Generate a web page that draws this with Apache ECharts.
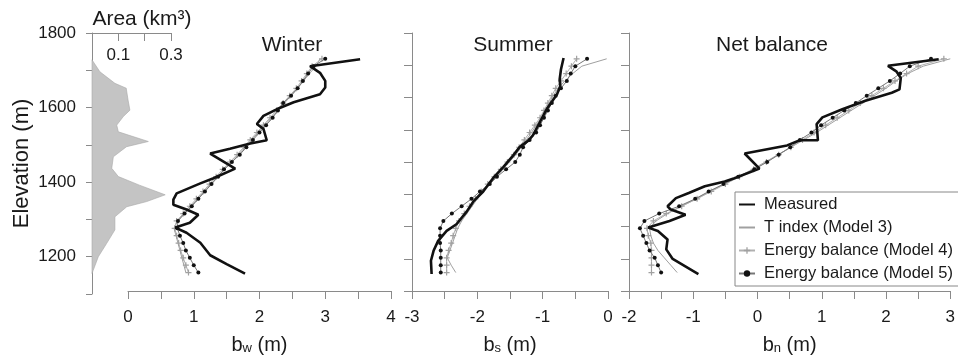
<!DOCTYPE html>
<html>
<head>
<meta charset="utf-8">
<script src="https://cdn.jsdelivr.net/npm/echarts@6/dist/echarts.min.js"></script>
<style>
  html, body { margin: 0; padding: 0; background: #fff; }
  #chart { width: 958px; height: 360px; }
</style>
</head>
<body>
<div id="chart"></div>
<script>
// glacier area by elevation band
const areaElev = [1155, 1200, 1236, 1272, 1307, 1334, 1348, 1366, 1392, 1415, 1437, 1468, 1495, 1509, 1535, 1553, 1576, 1593, 1620, 1652, 1665, 1696, 1728]
const areaKm3 = [0, 0.024, 0.056, 0.087, 0.087, 0.132, 0.208, 0.278, 0.18, 0.10, 0.075, 0.081, 0.131, 0.214, 0.10, 0.094, 0.119, 0.144, 0.137, 0.13, 0.087, 0.03, 0]

// model elevation bands (shared by all modelled profiles)
const modelElev = [1150, 1170, 1190, 1210, 1230, 1250, 1270, 1290, 1310, 1330, 1350, 1370, 1390, 1410, 1430, 1450, 1470, 1490, 1510, 1530, 1550, 1570, 1590, 1610, 1630, 1650, 1670, 1690, 1710, 1730]

// winter balance
const winterMeasElev = [1147, 1173, 1197, 1231, 1258, 1272, 1285, 1307, 1321, 1334, 1348, 1365, 1392, 1406, 1432, 1473, 1486, 1500, 1509, 1540, 1553, 1575, 1593, 1612, 1634, 1652, 1670, 1692, 1710, 1729]
const winterMeas = [1.78, 1.50, 1.25, 1.10, 0.89, 0.72, 0.94, 1.07, 0.89, 0.69, 0.69, 0.74, 1.10, 1.30, 1.63, 1.25, 1.55, 1.86, 2.11, 2.06, 1.96, 2.06, 2.26, 2.52, 2.92, 3.00, 3.00, 2.92, 2.77, 3.53]
const winterM3 = [0.88, 0.85, 0.82, 0.79, 0.76, 0.73, 0.70, 0.75, 0.86, 0.96, 1.06, 1.16, 1.26, 1.36, 1.47, 1.58, 1.68, 1.78, 1.88, 1.98, 2.08, 2.18, 2.28, 2.38, 2.48, 2.58, 2.67, 2.76, 2.86, 2.92]
const winterM4 = [0.92, 0.88, 0.84, 0.80, 0.77, 0.74, 0.71, 0.74, 0.84, 0.94, 1.04, 1.14, 1.24, 1.34, 1.44, 1.55, 1.66, 1.76, 1.86, 1.96, 2.06, 2.16, 2.26, 2.36, 2.46, 2.56, 2.64, 2.72, 2.80, 2.95]
const winterM5 = [1.07, 1.00, 0.94, 0.88, 0.84, 0.79, 0.75, 0.76, 0.86, 0.97, 1.07, 1.17, 1.27, 1.37, 1.46, 1.58, 1.70, 1.80, 1.90, 2.00, 2.10, 2.20, 2.28, 2.36, 2.48, 2.58, 2.66, 2.74, 2.82, 3.00]

// summer balance
const summerMeasElev = [1146, 1182, 1209, 1236, 1263, 1281, 1316, 1343, 1370, 1406, 1437, 1468, 1491, 1508, 1522, 1549, 1593, 1634, 1656, 1674, 1701, 1732]
const summerMeas = [-2.70, -2.71, -2.67, -2.60, -2.47, -2.32, -2.16, -2.06, -1.91, -1.76, -1.60, -1.45, -1.35, -1.22, -1.15, -1.07, -0.94, -0.78, -0.73, -0.74, -0.72, -0.68]
const summerM3 = [-2.33, -2.40, -2.46, -2.42, -2.38, -2.34, -2.30, -2.24, -2.16, -2.08, -2.00, -1.91, -1.81, -1.71, -1.61, -1.51, -1.41, -1.33, -1.25, -1.17, -1.10, -1.02, -0.96, -0.90, -0.84, -0.76, -0.66, -0.54, -0.40, -0.02]
const summerM4 = [-2.47, -2.47, -2.47, -2.44, -2.40, -2.37, -2.33, -2.28, -2.20, -2.12, -2.03, -1.94, -1.84, -1.74, -1.64, -1.54, -1.44, -1.36, -1.28, -1.20, -1.12, -1.04, -0.98, -0.92, -0.86, -0.80, -0.72, -0.64, -0.56, -0.48]
const summerM5 = [-2.56, -2.56, -2.56, -2.56, -2.57, -2.57, -2.57, -2.52, -2.39, -2.24, -2.09, -1.96, -1.81, -1.70, -1.56, -1.42, -1.35, -1.30, -1.20, -1.10, -1.04, -0.98, -0.92, -0.86, -0.80, -0.72, -0.63, -0.57, -0.50, -0.32]

// net balance
const netMeasElev = [1146, 1187, 1213, 1240, 1263, 1272, 1290, 1307, 1321, 1330, 1352, 1366, 1384, 1397, 1406, 1432, 1473, 1495, 1509, 1509, 1553, 1571, 1593, 1616, 1638, 1647, 1678, 1696, 1711, 1729]
const netMeas = [-0.92, -1.32, -1.42, -1.40, -1.55, -1.70, -1.37, -1.12, -1.35, -1.40, -1.27, -1.07, -0.82, -0.51, -0.36, 0.03, -0.20, 0.46, 0.66, 0.94, 0.92, 1.01, 1.32, 1.68, 2.09, 2.21, 2.23, 2.16, 2.03, 2.82]
const netM3 = [-1.25, -1.35, -1.45, -1.55, -1.62, -1.66, -1.68, -1.58, -1.40, -1.18, -0.96, -0.74, -0.52, -0.30, -0.08, 0.12, 0.32, 0.52, 0.72, 0.92, 1.10, 1.28, 1.46, 1.64, 1.82, 2.00, 2.16, 2.34, 2.58, 3.00]
const netM4 = [-1.65, -1.65, -1.65, -1.65, -1.66, -1.70, -1.72, -1.62, -1.42, -1.18, -0.94, -0.72, -0.50, -0.28, -0.06, 0.14, 0.33, 0.52, 0.70, 0.88, 1.06, 1.24, 1.42, 1.60, 1.78, 1.96, 2.14, 2.32, 2.50, 2.90]
const netM5 = [-1.50, -1.55, -1.60, -1.68, -1.73, -1.78, -1.83, -1.76, -1.53, -1.22, -0.97, -0.76, -0.53, -0.30, -0.05, 0.15, 0.33, 0.51, 0.66, 0.84, 0.99, 1.17, 1.35, 1.53, 1.70, 1.88, 2.06, 2.22, 2.37, 2.70]

const NAMES = ['Measured', 'T index (Model 3)', 'Energy balance (Model 4)', 'Energy balance (Model 5)']

const FONT = '"Liberation Sans", Arial, sans-serif'
const AXIS_COLOR = '#8a8a8a'
const TEXT_COLOR = '#1a1a1a'
const PLUS = 'path://M4,0h2v4h4v2h-4v4h-2v-4h-4v-2h4z'
const CLEAR = 'rgba(0,0,0,0)'

const pairs = (vals, elevs) => vals.map((v, i) => [v, elevs[i]])

const styles = [
  { lineStyle: { color: '#111', width: 2.6 }, itemStyle: { color: CLEAR }, symbol: 'none', z: 5 },
  { lineStyle: { color: '#a0a0a0', width: 1 }, itemStyle: { color: CLEAR }, symbol: 'none', z: 2 },
  { lineStyle: { color: '#b0b0b0', width: 1 }, itemStyle: { color: '#a0a0a0' }, symbol: PLUS, symbolSize: 6, z: 3 },
  { lineStyle: { color: '#777', width: 1 }, itemStyle: { color: '#111' }, symbol: 'circle', symbolSize: 4, z: 4 }
]

const makeSeries = (idx, xIdx, yIdx, data) => Object.assign({
  name: NAMES[idx],
  type: 'line',
  xAxisIndex: xIdx,
  yAxisIndex: yIdx,
  data: data,
  showSymbol: true,
  animation: false,
  silent: true
}, styles[idx])

const xLabel = { fontSize: 17, color: TEXT_COLOR, fontFamily: FONT, margin: 18 }
const tickDown = { show: true, length: 8, lineStyle: { color: AXIS_COLOR } }
const halfLabel = v => (Math.abs(v - Math.round(v)) < 1e-6 ? String(Math.round(v)) : '')
const nameRich = sub => ({
  name: '{b|b}{s|' + sub + '}{b| (m)}',
  nameLocation: 'middle',
  nameGap: 38,
  nameTextStyle: {
    fontFamily: FONT, color: TEXT_COLOR,
    rich: {
      b: { fontSize: 20, fontFamily: FONT, color: TEXT_COLOR, verticalAlign: 'bottom', lineHeight: 26 },
      s: { fontSize: 13, fontFamily: FONT, color: TEXT_COLOR, verticalAlign: 'bottom', lineHeight: 13 }
    }
  }
})

const balanceX = (grid, min, max, sub) => Object.assign({
  type: 'value', gridIndex: grid, min: min, max: max, interval: 0.5,
  axisLine: { show: true, lineStyle: { color: AXIS_COLOR } },
  axisTick: tickDown,
  axisLabel: Object.assign({ formatter: halfLabel }, xLabel),
  splitLine: { show: false }
}, nameRich(sub))

const hiddenY = grid => ({ type: 'value', gridIndex: grid, min: 1100, max: 1800, show: false })
const tickY = grid => ({
  type: 'value', gridIndex: grid, position: 'left', min: 0, max: 8, interval: 1,
  axisLine: { show: true, lineStyle: { color: AXIS_COLOR } },
  axisTick: { show: true, length: 8, lineStyle: { color: AXIS_COLOR } },
  axisLabel: { show: false },
  splitLine: { show: false }
})

const titleStyle = { fontSize: 21, fontWeight: 'normal', color: TEXT_COLOR, fontFamily: FONT }

const option = {
  backgroundColor: '#fff',
  animation: false,
  title: [
    { text: 'Area (km³)', left: 142, top: 9, textAlign: 'center', padding: 0, textStyle: titleStyle },
    { text: 'Winter', left: 292, top: 35, textAlign: 'center', padding: 0, textStyle: titleStyle },
    { text: 'Summer', left: 513, top: 35, textAlign: 'center', padding: 0, textStyle: titleStyle },
    { text: 'Net balance', left: 772, top: 35, textAlign: 'center', padding: 0, textStyle: titleStyle }
  ],
  grid: [
    { left: 92, top: 33, width: 79, height: 261 },
    { left: 128, top: 33, width: 263, height: 261 },
    { left: 412, top: 33, width: 196, height: 261 },
    { left: 629, top: 33, width: 327.5, height: 261 }
  ],
  xAxis: [
    {
      type: 'value', gridIndex: 0, position: 'top', min: 0, max: 0.3, interval: 0.1,
      axisLine: { show: true, lineStyle: { color: AXIS_COLOR } },
      axisTick: { show: true, inside: true, length: 8, lineStyle: { color: AXIS_COLOR } },
      axisLabel: {
        inside: true, margin: 14, fontSize: 17, color: TEXT_COLOR, fontFamily: FONT,
        formatter: v => (Math.abs(v - 0.1) < 1e-6 || Math.abs(v - 0.3) < 1e-6 ? v.toFixed(1) : '')
      },
      splitLine: { show: false }
    },
    balanceX(1, 0, 4, 'w'),
    balanceX(2, -3, 0, 's'),
    balanceX(3, -2, 3, 'n')
  ],
  yAxis: [
    {
      type: 'value', gridIndex: 0, min: 1100, max: 1800, interval: 100,
      name: 'Elevation (m)', nameLocation: 'middle', nameRotate: 90, nameGap: 59,
      nameTextStyle: { fontSize: 22, color: TEXT_COLOR, fontFamily: FONT },
      axisLine: { show: true, lineStyle: { color: AXIS_COLOR } },
      axisTick: { show: true, length: 6, lineStyle: { color: AXIS_COLOR } },
      axisLabel: {
        fontSize: 17, color: TEXT_COLOR, fontFamily: FONT, margin: 16,
        formatter: v => (v % 200 === 0 ? String(v) : '')
      },
      splitLine: { show: false }
    },
    hiddenY(1),
    hiddenY(2),
    tickY(2),
    hiddenY(3),
    tickY(3)
  ],
  legend: {
    orient: 'vertical',
    left: 735,
    top: 192,
    data: NAMES,
    itemWidth: 16,
    itemHeight: 8,
    itemGap: 6,
    padding: [4, 10, 4, 3],
    backgroundColor: '#fff',
    borderColor: '#888',
    borderWidth: 1,
    borderRadius: 0,
    selectedMode: false,
    textStyle: { fontSize: 16.5, color: TEXT_COLOR, fontFamily: FONT, padding: [0, 0, 0, 4] }
  },
  series: [
    {
      type: 'custom',
      xAxisIndex: 0,
      yAxisIndex: 0,
      silent: true,
      data: pairs(areaKm3, areaElev),
      renderItem: (params, api) => {
        if (params.dataIndex !== 0) return null
        const pts = [api.coord([0, areaElev[0]])]
        areaElev.forEach((e, i) => pts.push(api.coord([areaKm3[i], e])))
        pts.push(api.coord([0, areaElev[areaElev.length - 1]]))
        return {
          type: 'polygon',
          shape: { points: pts },
          style: { fill: '#c4c4c4', stroke: '#a8a8a8', lineWidth: 0.6 }
        }
      }
    },
    makeSeries(1, 1, 1, pairs(winterM3, modelElev)),
    makeSeries(2, 1, 1, pairs(winterM4, modelElev)),
    makeSeries(3, 1, 1, pairs(winterM5, modelElev)),
    makeSeries(0, 1, 1, pairs(winterMeas, winterMeasElev)),
    makeSeries(1, 2, 2, pairs(summerM3, modelElev)),
    makeSeries(2, 2, 2, pairs(summerM4, modelElev)),
    makeSeries(3, 2, 2, pairs(summerM5, modelElev)),
    makeSeries(0, 2, 2, pairs(summerMeas, summerMeasElev)),
    makeSeries(1, 3, 4, pairs(netM3, modelElev)),
    makeSeries(2, 3, 4, pairs(netM4, modelElev)),
    makeSeries(3, 3, 4, pairs(netM5, modelElev)),
    makeSeries(0, 3, 4, pairs(netMeas, netMeasElev))
  ]
}

const myChart = echarts.init(document.getElementById('chart'), null, { renderer: 'canvas' })
myChart.setOption(option)
</script>
</body>
</html>
